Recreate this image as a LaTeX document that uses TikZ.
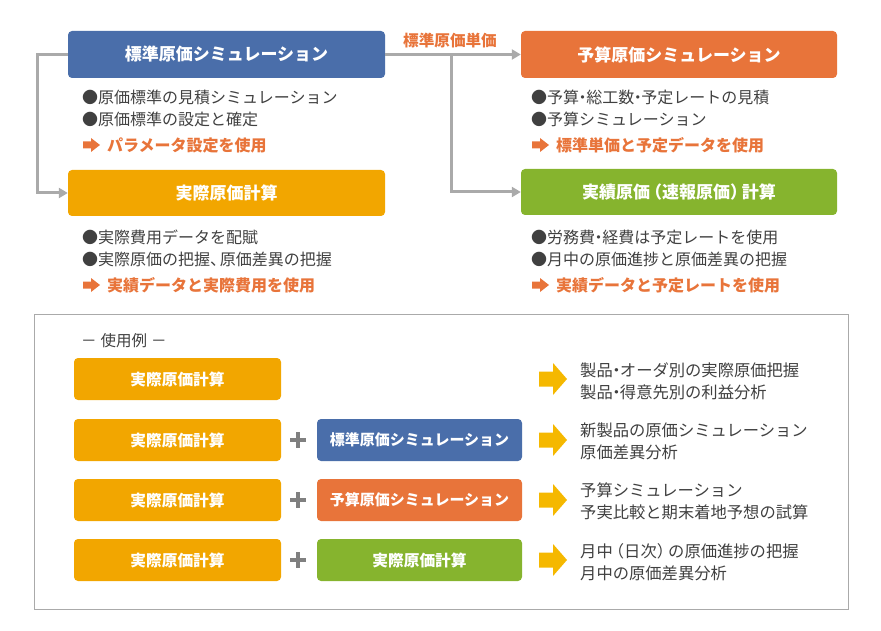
\documentclass[tikz,border=0pt]{standalone}
\usepackage{fontspec}
\setmainfont{Noto Sans CJK JP}
\usetikzlibrary{arrows.meta}
\definecolor{cblue}{RGB}{74,110,170}
\definecolor{corange}{RGB}{232,116,58}
\definecolor{cyellow}{RGB}{242,166,0}
\definecolor{cgreen}{RGB}{134,180,46}
\definecolor{carrow}{RGB}{245,184,0}
\definecolor{cline}{RGB}{170,170,170}
\definecolor{ctext}{RGB}{64,64,64}
\definecolor{cplus}{RGB}{128,128,128}
\newcommand\nd{\kern-.28em・\kern-.28em}
\newcommand\lp{\kern-.3em（}
\newcommand\rp{）\kern-.3em}
\newcommand\cm{、\kern-.4em}
\newcommand\orarrow[2]{\fill[corange] (#1,#2) ++(0,-3.5) -- ++(8,0) -- ++(0,-3.5) -- ++(9,7) -- ++(-9,7) -- ++(0,-3.5) -- ++(-8,0) -- cycle;}
\newcommand\ylarrow[2]{\fill[carrow] (#1,#2) ++(0,-7.5) -- ++(14,0) -- ++(0,-8.5) -- ++(14,16) -- ++(-14,16) -- ++(0,-8.5) -- ++(-14,0) -- cycle;}
\begin{document}
\begin{tikzpicture}[x=1pt,y=-1pt,
  hbox/.style={rounded corners=4pt, text=white, font=\bfseries\fontsize{17}{19}\selectfont, inner sep=0pt},
  sbox/.style={rounded corners=4pt, text=white, font=\bfseries\fontsize{15.7}{17}\selectfont, inner sep=0pt, minimum height=42pt},
  item/.style={anchor=west, inner sep=0pt, text=ctext, font=\fontsize{16}{18}\selectfont},
  ritem/.style={anchor=west, inner sep=0pt, text=ctext, font=\fontsize{16.3}{18}\selectfont},
  use/.style={anchor=west, inner sep=0pt, text=corange, font=\bfseries\fontsize{16}{18}\selectfont},
  conn/.style={draw=cline, line width=3pt, -{Triangle[width=10pt,length=9pt]}},
  plus/.style={draw=cplus, line width=3.5pt}
]
\useasboundingbox (0,0) rectangle (881,631);

% top boxes
\node[hbox, fill=cblue, minimum width=317pt, minimum height=47pt] (std) at (226.5,54.5) {標準原価シミュレーション};
\node[hbox, fill=corange, minimum width=316pt, minimum height=47pt] (bud) at (679,54.5) {予算原価シミュレーション};
\node[hbox, fill=cyellow, minimum width=317pt, minimum height=46pt] (act) at (226.5,193) {実際原価計算};
\node[hbox, fill=cgreen, minimum width=316pt, minimum height=46pt] (res) at (679,192) {実績原価\lp 速報原価\rp 計算};

% connectors
\draw[conn] (std.west) -- (37,54.5) |- (act.west);
\draw[conn] (std.east) -- (bud.west);
\coordinate (br) at (451,54.5);
\draw[conn] (br) |- (res.west);
\node[anchor=center, inner sep=0pt, text=corange, font=\bfseries\fontsize{15.6}{17}\selectfont] (lbl) at (450,41) {標準原価単価};

% texts under blue
\node[item] (t1) at (82,97) {●原価標準の見積シミュレーション};
\node[item] (t2) at (82,119) {●原価標準の設定と確定};
\orarrow{83}{145}
\node[use] (t3) at (107,145) {パラメータ設定を使用};
% under orange
\node[item] (t4) at (531,97) {●予算\nd 総工数\nd 予定レートの見積};
\node[item] (t5) at (531,119) {●予算シミュレーション};
\orarrow{532}{145}
\node[use] (t6) at (556,145) {標準単価と予定データを使用};
% under yellow
\node[item] (t7) at (82,237) {●実際費用データを配賦};
\node[item] (t8) at (82,259) {●実際原価の把握\cm 原価差異の把握};
\orarrow{83}{285}
\node[use] (t9) at (107,285) {実績データと実際費用を使用};
% under green
\node[item] (t10) at (531,237) {●労務費\nd 経費は予定レートを使用};
\node[item] (t11) at (531,259) {●月中の原価進捗と原価差異の把握};
\orarrow{532}{285}
\node[use] (t12) at (556,285) {実績データと予定レートを使用};

% bottom frame
\draw[cline, line width=1pt] (34,314) rectangle (848,609);
\node[anchor=west, inner sep=0pt, text=ctext, font=\fontsize{15.5}{17}\selectfont] (ex) at (81,341) {－\kern4pt 使用例\kern4pt －};

% rows
\foreach \yy/\nm in {379/a,440/b,500/c,560/d}{
  \node[sbox, fill=cyellow, minimum width=207pt] (y\nm) at (177.5,\yy) {実際原価計算};
  \ylarrow{539}{\yy}
}
\node[sbox, fill=cblue, minimum width=205pt, font=\bfseries\fontsize{15}{17}\selectfont] (sb) at (419.5,440) {標準原価シミュレーション};
\node[sbox, fill=corange, minimum width=205pt, font=\bfseries\fontsize{15}{17}\selectfont] (sc) at (419.5,500) {予算原価シミュレーション};
\node[sbox, fill=cgreen, minimum width=205pt] (sd) at (419.5,560) {実際原価計算};
\foreach \yy in {440,500,560}{
  \draw[plus] (290,\yy) -- (306,\yy);
  \draw[plus] (298,\yy-8) -- (298,\yy+8);
}

\node[ritem] (r1a) at (580,370) {製品\nd オーダ別の実際原価把握};
\node[ritem] (r1b) at (580,392) {製品\nd 得意先別の利益分析};
\node[ritem] (r2a) at (580,430) {新製品の原価シミュレーション};
\node[ritem] (r2b) at (580,452) {原価差異分析};
\node[ritem] (r3a) at (580,490) {予算シミュレーション};
\node[ritem] (r3b) at (580,512) {予実比較と期末着地予想の試算};
\node[ritem] (r4a) at (580,551) {月中\lp 日次\rp の原価進捗の把握};
\node[ritem] (r4b) at (580,573) {月中の原価差異分析};
\end{tikzpicture}
\end{document}
